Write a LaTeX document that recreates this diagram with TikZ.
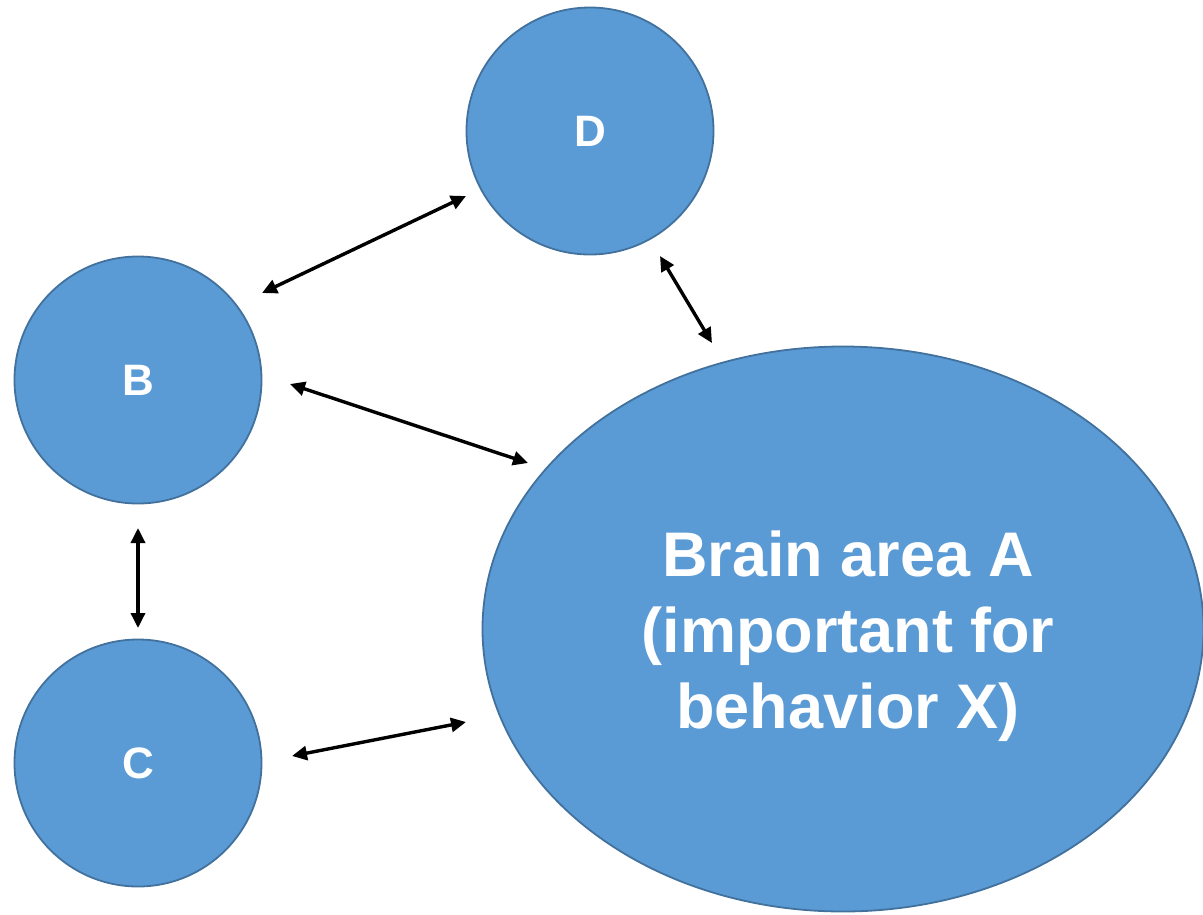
\documentclass[tikz,border=0pt]{standalone}
\usepackage{fontspec}
\setmainfont{Liberation Sans}
\usetikzlibrary{arrows.meta,shapes.geometric}
\definecolor{areafill}{RGB}{91,155,213}
\definecolor{areaedge}{RGB}{65,113,156}
\begin{document}
\begin{tikzpicture}[x=1pt,y=-1pt,
  area/.style={draw=areaedge,line width=1.8pt,fill=areafill,text=white,font=\bfseries,inner sep=0pt},
  smallarea/.style={area,circle,minimum size=247pt,font=\fontsize{44}{50}\selectfont\bfseries},
  link/.style={line width=3.4pt,{Triangle[length=15pt,width=14pt]}-{Triangle[length=15pt,width=14pt]}}]
\useasboundingbox (0,0) rectangle (1203,914);
\node[smallarea] (D) at (590,131) {D};
\node[smallarea] (B) at (138,380) {B};
\node[smallarea] (C) at (138,763) {C};
\node[area,ellipse,minimum width=721pt,minimum height=565pt] (A) at (843,629) {};
\node[text=white,align=center,inner sep=0pt,
  font=\fontsize{63}{76}\selectfont\bfseries] (Alabel) at (848,636)
  {Brain area A\\(important for\\behavior X)};
\coordinate (bd1) at (262,293); \coordinate (bd2) at (466,196);
\coordinate (ba1) at (290,384); \coordinate (ba2) at (528,463);
\coordinate (da1) at (660,256); \coordinate (da2) at (712,343);
\coordinate (bc1) at (138,528); \coordinate (bc2) at (138,628);
\coordinate (ca1) at (292,756); \coordinate (ca2) at (466,722);
\draw[link] (bd1) -- (bd2);
\draw[link] (ba1) -- (ba2);
\draw[link] (da1) -- (da2);
\draw[link] (bc1) -- (bc2);
\draw[link] (ca1) -- (ca2);
\end{tikzpicture}
\end{document}
